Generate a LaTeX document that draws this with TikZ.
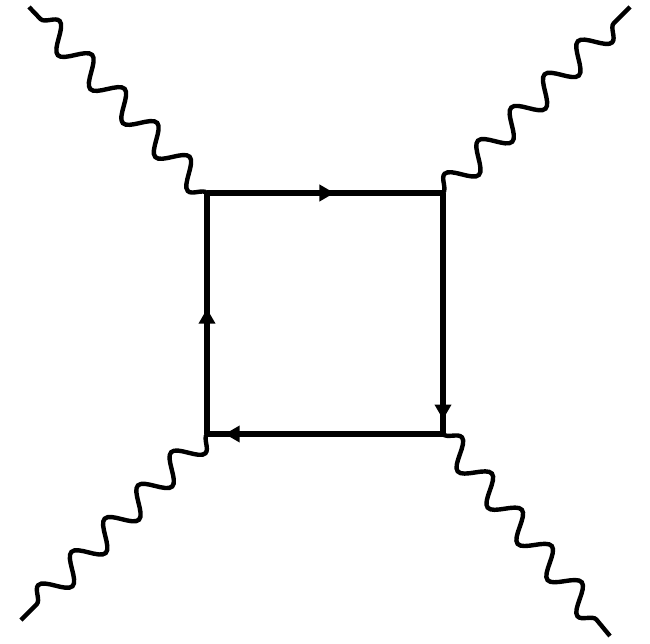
\documentclass[tikz,border=0pt]{standalone}
\usepackage{tikz}
\usetikzlibrary{decorations.pathmorphing,decorations.markings,arrows.meta}

\tikzset{
  photon/.style={line width=4.4pt,decorate,decoration={snake,amplitude=12.5pt,segment length=47pt}},
  fermion/.style={line width=5.6pt,postaction={decorate},
    decoration={markings,mark=at position #1 with {\arrow{Triangle[length=15pt,width=16pt]}}}}
}

\begin{document}
\begin{tikzpicture}[x=1pt,y=-1pt]
            \useasboundingbox (0,0) rectangle (650,644);
            
            \coordinate (v1) at (207,193);
            \coordinate (v2) at (443,193);
            \coordinate (v3) at (443,434);
            \coordinate (v4) at (207,434);
            
            \coordinate (p1) at (29,7);
            \coordinate (p2) at (630,7);
            \coordinate (p3) at (610,636);
            \coordinate (p4) at (21,620);
            
            \draw[fermion=0.54] (v1) -- (v2);
            \draw[fermion=0.94] (v2) -- (v3);
            \draw[fermion=0.925] (v3) -- (v4);
            \draw[fermion=0.52] (v4) -- (v1);
            
            \draw[photon] (v1) -- (p1);
            \draw[photon] (v2) -- (p2);
            \draw[photon] (v3) -- (p3);
            \draw[photon] (v4) -- (p4);
        \end{tikzpicture}
\end{document}
